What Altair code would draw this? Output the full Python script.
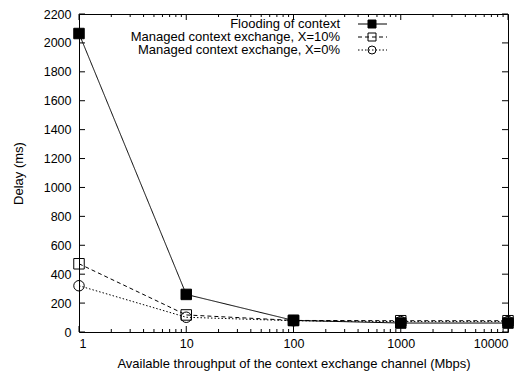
import altair as alt
import pandas as pd

# ---- data ----
throughput = [1, 10, 100, 1000, 10000]
flooding = [2065, 260, 80, 62, 62]
managed_10 = [472, 118, 80, 78, 78]
managed_0 = [320, 102, 78, 72, 72]

name_flood = "Flooding of context"
name_10 = "Managed context exchange, X=10%"
name_0 = "Managed context exchange, X=0%"
legend_order = [name_flood, name_10, name_0]

x_major = [1, 10, 100, 1000, 10000]
x_minor = [2, 3, 4, 5, 6, 7, 8, 9,
           20, 30, 40, 50, 60, 70, 80, 90,
           200, 300, 400, 500, 600, 700, 800, 900,
           2000, 3000, 4000, 5000, 6000, 7000, 8000, 9000]
y_ticks = [0, 200, 400, 600, 800, 1000, 1200, 1400, 1600, 1800, 2000, 2200]

W, H = 429, 318
FONT = "Liberation Sans"

rows = []
for name, vals in [(name_0, managed_0), (name_10, managed_10), (name_flood, flooding)]:
    for t, v in zip(throughput, vals):
        rows.append({"series": name, "x": t, "y": v})
df = pd.DataFrame(rows)

legend_df = pd.DataFrame({"series": legend_order, "row": [0, 1, 2]})
xmaj_df = pd.DataFrame({"x": x_major})
xmin_df = pd.DataFrame({"x": x_minor})
y_df = pd.DataFrame({"y": y_ticks})

xs = alt.Scale(type="log", domain=[1, 10000], nice=False)
ys = alt.Scale(domain=[0, 2200], nice=False, zero=False)
dash_scale = alt.Scale(domain=legend_order, range=[[1, 0], [4, 3], [1.5, 2]])
shape_scale = alt.Scale(domain=legend_order, range=["square", "square", "circle"])
fill_scale = alt.Scale(domain=legend_order, range=["black", "transparent", "transparent"])

x_axis = alt.Axis(values=x_major, format="d", ticks=False, domain=False, grid=False,
                  labelPadding=5, titlePadding=8,
                  title="Available throughput of the context exchange channel (Mbps)")
X_enc = alt.X("x:Q", scale=xs, axis=x_axis)
Y_plain = alt.Y("y:Q", scale=ys, axis=None)

lines = alt.Chart(df).mark_line(color="black", strokeWidth=1).encode(
    x=X_enc,
    y=alt.Y("y:Q", scale=ys,
            axis=alt.Axis(values=y_ticks, format="d", ticks=False, domain=False, grid=False,
                          labelPadding=8, titlePadding=18, title="Delay (ms)")),
    strokeDash=alt.StrokeDash("series:N", scale=dash_scale, legend=None),
    detail="series:N",
)

points = alt.Chart(df).mark_point(filled=True, stroke="black", strokeWidth=1, opacity=1, size=110).encode(
    x=X_enc,
    y=Y_plain,
    shape=alt.Shape("series:N", scale=shape_scale, legend=None),
    fill=alt.Fill("series:N", scale=fill_scale, legend=None),
)

tick_style = dict(color="black", strokeWidth=1)
xmaj_bot = alt.Chart(xmaj_df).mark_rule(**tick_style).encode(
    x=X_enc, y=alt.value(H), y2=alt.value(H - 6))
xmaj_top = alt.Chart(xmaj_df).mark_rule(**tick_style).encode(
    x=X_enc, y=alt.value(0), y2=alt.value(6))
xmin_bot = alt.Chart(xmin_df).mark_rule(**tick_style).encode(
    x=X_enc, y=alt.value(H), y2=alt.value(H - 3))
xmin_top = alt.Chart(xmin_df).mark_rule(**tick_style).encode(
    x=X_enc, y=alt.value(0), y2=alt.value(3))
y_left = alt.Chart(y_df).mark_rule(**tick_style).encode(
    y=Y_plain, x=alt.value(0), x2=alt.value(6))
y_right = alt.Chart(y_df).mark_rule(**tick_style).encode(
    y=Y_plain, x=alt.value(W), x2=alt.value(W - 6))

leg_y = alt.Y("row:Q", scale=alt.Scale(domain=[0, 2], range=[10, 36]), axis=None)
leg_text = alt.Chart(legend_df).mark_text(align="right", baseline="middle", font=FONT,
                                          fontSize=13, color="black").encode(
    x=alt.value(261), y=leg_y, text="series:N")
leg_line = alt.Chart(legend_df).mark_rule(color="black", strokeWidth=1).encode(
    x=alt.value(279), x2=alt.value(308), y=leg_y,
    strokeDash=alt.StrokeDash("series:N", scale=dash_scale, legend=None))
leg_pt = alt.Chart(legend_df).mark_point(filled=True, stroke="black", strokeWidth=1, opacity=1,
                                         size=64).encode(
    x=alt.value(293), y=leg_y,
    shape=alt.Shape("series:N", scale=shape_scale, legend=None),
    fill=alt.Fill("series:N", scale=fill_scale, legend=None))

chart = alt.layer(
    lines, points, xmin_bot, xmin_top, xmaj_bot, xmaj_top, y_left, y_right,
    leg_text, leg_line, leg_pt
).resolve_scale(y="independent").properties(
    width=W, height=H,
    autosize=alt.AutoSizeParams(type="none"),
    padding={"left": 71, "top": 6, "right": 16, "bottom": 45},
).configure_view(stroke="black", strokeWidth=1).configure_axis(
    labelFont=FONT, titleFont=FONT, labelFontSize=12.5, titleFontSize=13,
    labelColor="black", titleColor="black", titleFontWeight="normal",
)

chart.save("out.html", embed_options={"renderer": "svg", "actions": False})
